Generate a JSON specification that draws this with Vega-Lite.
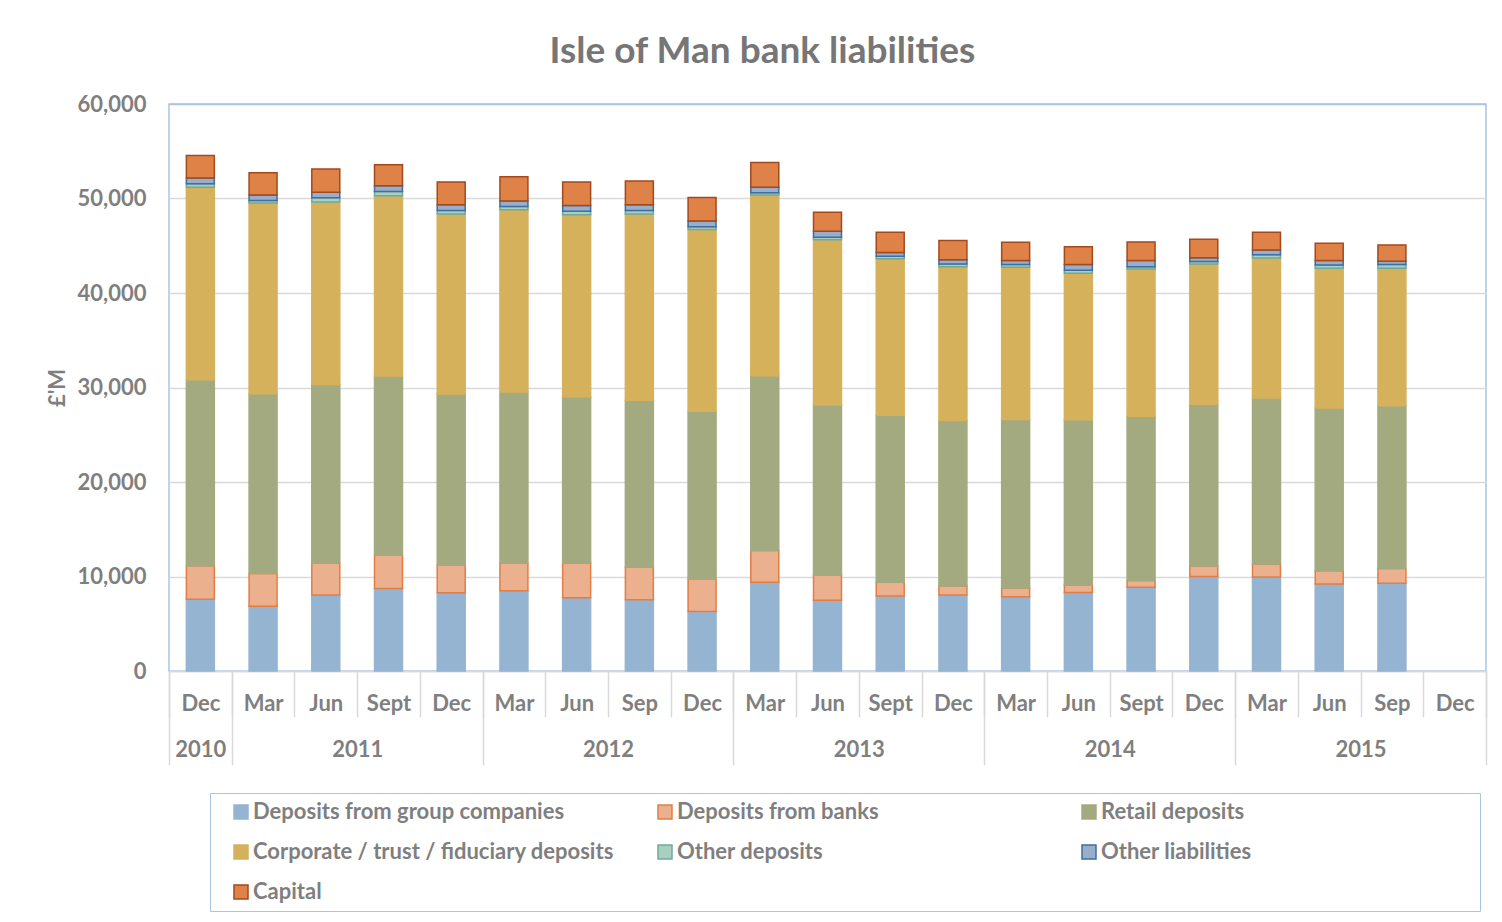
{
  "$schema": "https://vega.github.io/schema/vega-lite/v6.json",
  "width": 1317,
  "height": 567,
  "autosize": "none",
  "padding": {"left": 169, "top": 104, "right": 16, "bottom": 251},
  "background": "white",
  "title": {"text": "Isle of Man bank liabilities", "font": "Lato", "fontSize": 37, "fontWeight": "bold", "color": "#767676", "anchor": "middle", "frame": "bounds", "offset": 22, "dx": -4},
  "config": {"view": {"stroke": "#A9C4E4", "strokeWidth": 1.5}, "font": "Lato"},
  "datasets": {
    "liab": [
      {"period": "Dec 2010", "series": "Deposits from group companies", "value": 7600},
      {"period": "Dec 2010", "series": "Deposits from banks", "value": 3540},
      {"period": "Dec 2010", "series": "Retail deposits", "value": 19670},
      {"period": "Dec 2010", "series": "Corporate / trust / fiduciary deposits", "value": 20390},
      {"period": "Dec 2010", "series": "Other deposits", "value": 360},
      {"period": "Dec 2010", "series": "Other liabilities", "value": 620},
      {"period": "Dec 2010", "series": "Capital", "value": 2360},
      {"period": "Mar 2011", "series": "Deposits from group companies", "value": 6850},
      {"period": "Mar 2011", "series": "Deposits from banks", "value": 3460},
      {"period": "Mar 2011", "series": "Retail deposits", "value": 19040},
      {"period": "Mar 2011", "series": "Corporate / trust / fiduciary deposits", "value": 20180},
      {"period": "Mar 2011", "series": "Other deposits", "value": 250},
      {"period": "Mar 2011", "series": "Other liabilities", "value": 580},
      {"period": "Mar 2011", "series": "Capital", "value": 2370},
      {"period": "Jun 2011", "series": "Deposits from group companies", "value": 8050},
      {"period": "Jun 2011", "series": "Deposits from banks", "value": 3350},
      {"period": "Jun 2011", "series": "Retail deposits", "value": 18930},
      {"period": "Jun 2011", "series": "Corporate / trust / fiduciary deposits", "value": 19310},
      {"period": "Jun 2011", "series": "Other deposits", "value": 430},
      {"period": "Jun 2011", "series": "Other liabilities", "value": 590},
      {"period": "Jun 2011", "series": "Capital", "value": 2470},
      {"period": "Sept 2011", "series": "Deposits from group companies", "value": 8740},
      {"period": "Sept 2011", "series": "Deposits from banks", "value": 3500},
      {"period": "Sept 2011", "series": "Retail deposits", "value": 18970},
      {"period": "Sept 2011", "series": "Corporate / trust / fiduciary deposits", "value": 19080},
      {"period": "Sept 2011", "series": "Other deposits", "value": 440},
      {"period": "Sept 2011", "series": "Other liabilities", "value": 620},
      {"period": "Sept 2011", "series": "Capital", "value": 2220},
      {"period": "Dec 2011", "series": "Deposits from group companies", "value": 8270},
      {"period": "Dec 2011", "series": "Deposits from banks", "value": 2910},
      {"period": "Dec 2011", "series": "Retail deposits", "value": 18140},
      {"period": "Dec 2011", "series": "Corporate / trust / fiduciary deposits", "value": 19040},
      {"period": "Dec 2011", "series": "Other deposits", "value": 360},
      {"period": "Dec 2011", "series": "Other liabilities", "value": 620},
      {"period": "Dec 2011", "series": "Capital", "value": 2410},
      {"period": "Mar 2012", "series": "Deposits from group companies", "value": 8490},
      {"period": "Mar 2012", "series": "Deposits from banks", "value": 2910},
      {"period": "Mar 2012", "series": "Retail deposits", "value": 18130},
      {"period": "Mar 2012", "series": "Corporate / trust / fiduciary deposits", "value": 19270},
      {"period": "Mar 2012", "series": "Other deposits", "value": 360},
      {"period": "Mar 2012", "series": "Other liabilities", "value": 580},
      {"period": "Mar 2012", "series": "Capital", "value": 2550},
      {"period": "Jun 2012", "series": "Deposits from group companies", "value": 7760},
      {"period": "Jun 2012", "series": "Deposits from banks", "value": 3670},
      {"period": "Jun 2012", "series": "Retail deposits", "value": 17590},
      {"period": "Jun 2012", "series": "Corporate / trust / fiduciary deposits", "value": 19270},
      {"period": "Jun 2012", "series": "Other deposits", "value": 360},
      {"period": "Jun 2012", "series": "Other liabilities", "value": 620},
      {"period": "Jun 2012", "series": "Capital", "value": 2480},
      {"period": "Sep 2012", "series": "Deposits from group companies", "value": 7540},
      {"period": "Sep 2012", "series": "Deposits from banks", "value": 3460},
      {"period": "Sep 2012", "series": "Retail deposits", "value": 17660},
      {"period": "Sep 2012", "series": "Corporate / trust / fiduciary deposits", "value": 19700},
      {"period": "Sep 2012", "series": "Other deposits", "value": 360},
      {"period": "Sep 2012", "series": "Other liabilities", "value": 620},
      {"period": "Sep 2012", "series": "Capital", "value": 2520},
      {"period": "Dec 2012", "series": "Deposits from group companies", "value": 6300},
      {"period": "Dec 2012", "series": "Deposits from banks", "value": 3420},
      {"period": "Dec 2012", "series": "Retail deposits", "value": 17770},
      {"period": "Dec 2012", "series": "Corporate / trust / fiduciary deposits", "value": 19230},
      {"period": "Dec 2012", "series": "Other deposits", "value": 290},
      {"period": "Dec 2012", "series": "Other liabilities", "value": 620},
      {"period": "Dec 2012", "series": "Capital", "value": 2480},
      {"period": "Mar 2013", "series": "Deposits from group companies", "value": 9400},
      {"period": "Mar 2013", "series": "Deposits from banks", "value": 3350},
      {"period": "Mar 2013", "series": "Retail deposits", "value": 18500},
      {"period": "Mar 2013", "series": "Corporate / trust / fiduciary deposits", "value": 19110},
      {"period": "Mar 2013", "series": "Other deposits", "value": 260},
      {"period": "Mar 2013", "series": "Other liabilities", "value": 580},
      {"period": "Mar 2013", "series": "Capital", "value": 2620},
      {"period": "Jun 2013", "series": "Deposits from group companies", "value": 7500},
      {"period": "Jun 2013", "series": "Deposits from banks", "value": 2620},
      {"period": "Jun 2013", "series": "Retail deposits", "value": 18030},
      {"period": "Jun 2013", "series": "Corporate / trust / fiduciary deposits", "value": 17480},
      {"period": "Jun 2013", "series": "Other deposits", "value": 260},
      {"period": "Jun 2013", "series": "Other liabilities", "value": 650},
      {"period": "Jun 2013", "series": "Capital", "value": 2000},
      {"period": "Sept 2013", "series": "Deposits from group companies", "value": 7940},
      {"period": "Sept 2013", "series": "Deposits from banks", "value": 1460},
      {"period": "Sept 2013", "series": "Retail deposits", "value": 17660},
      {"period": "Sept 2013", "series": "Corporate / trust / fiduciary deposits", "value": 16570},
      {"period": "Sept 2013", "series": "Other deposits", "value": 250},
      {"period": "Sept 2013", "series": "Other liabilities", "value": 400},
      {"period": "Sept 2013", "series": "Capital", "value": 2150},
      {"period": "Dec 2013", "series": "Deposits from group companies", "value": 8050},
      {"period": "Dec 2013", "series": "Deposits from banks", "value": 940},
      {"period": "Dec 2013", "series": "Retail deposits", "value": 17520},
      {"period": "Dec 2013", "series": "Corporate / trust / fiduciary deposits", "value": 16280},
      {"period": "Dec 2013", "series": "Other deposits", "value": 290},
      {"period": "Dec 2013", "series": "Other liabilities", "value": 440},
      {"period": "Dec 2013", "series": "Capital", "value": 2040},
      {"period": "Mar 2014", "series": "Deposits from group companies", "value": 7870},
      {"period": "Mar 2014", "series": "Deposits from banks", "value": 910},
      {"period": "Mar 2014", "series": "Retail deposits", "value": 17840},
      {"period": "Mar 2014", "series": "Corporate / trust / fiduciary deposits", "value": 16100},
      {"period": "Mar 2014", "series": "Other deposits", "value": 290},
      {"period": "Mar 2014", "series": "Other liabilities", "value": 430},
      {"period": "Mar 2014", "series": "Capital", "value": 1930},
      {"period": "Jun 2014", "series": "Deposits from group companies", "value": 8300},
      {"period": "Jun 2014", "series": "Deposits from banks", "value": 800},
      {"period": "Jun 2014", "series": "Retail deposits", "value": 17480},
      {"period": "Jun 2014", "series": "Corporate / trust / fiduciary deposits", "value": 15520},
      {"period": "Jun 2014", "series": "Other deposits", "value": 320},
      {"period": "Jun 2014", "series": "Other liabilities", "value": 590},
      {"period": "Jun 2014", "series": "Capital", "value": 1890},
      {"period": "Sept 2014", "series": "Deposits from group companies", "value": 8850},
      {"period": "Sept 2014", "series": "Deposits from banks", "value": 730},
      {"period": "Sept 2014", "series": "Retail deposits", "value": 17370},
      {"period": "Sept 2014", "series": "Corporate / trust / fiduciary deposits", "value": 15580},
      {"period": "Sept 2014", "series": "Other deposits", "value": 260},
      {"period": "Sept 2014", "series": "Other liabilities", "value": 650},
      {"period": "Sept 2014", "series": "Capital", "value": 1970},
      {"period": "Dec 2014", "series": "Deposits from group companies", "value": 10010},
      {"period": "Dec 2014", "series": "Deposits from banks", "value": 1100},
      {"period": "Dec 2014", "series": "Retail deposits", "value": 17110},
      {"period": "Dec 2014", "series": "Corporate / trust / fiduciary deposits", "value": 14860},
      {"period": "Dec 2014", "series": "Other deposits", "value": 260},
      {"period": "Dec 2014", "series": "Other liabilities", "value": 400},
      {"period": "Dec 2014", "series": "Capital", "value": 1960},
      {"period": "Mar 2015", "series": "Deposits from group companies", "value": 9940},
      {"period": "Mar 2015", "series": "Deposits from banks", "value": 1390},
      {"period": "Mar 2015", "series": "Retail deposits", "value": 17550},
      {"period": "Mar 2015", "series": "Corporate / trust / fiduciary deposits", "value": 14820},
      {"period": "Mar 2015", "series": "Other deposits", "value": 360},
      {"period": "Mar 2015", "series": "Other liabilities", "value": 480},
      {"period": "Mar 2015", "series": "Capital", "value": 1890},
      {"period": "Jun 2015", "series": "Deposits from group companies", "value": 9210},
      {"period": "Jun 2015", "series": "Deposits from banks", "value": 1390},
      {"period": "Jun 2015", "series": "Retail deposits", "value": 17220},
      {"period": "Jun 2015", "series": "Corporate / trust / fiduciary deposits", "value": 14790},
      {"period": "Jun 2015", "series": "Other deposits", "value": 360},
      {"period": "Jun 2015", "series": "Other liabilities", "value": 470},
      {"period": "Jun 2015", "series": "Capital", "value": 1830},
      {"period": "Sep 2015", "series": "Deposits from group companies", "value": 9290},
      {"period": "Sep 2015", "series": "Deposits from banks", "value": 1560},
      {"period": "Sep 2015", "series": "Retail deposits", "value": 17230},
      {"period": "Sep 2015", "series": "Corporate / trust / fiduciary deposits", "value": 14530},
      {"period": "Sep 2015", "series": "Other deposits", "value": 400},
      {"period": "Sep 2015", "series": "Other liabilities", "value": 360},
      {"period": "Sep 2015", "series": "Capital", "value": 1710}
    ]
  },
  "data": {"name": "liab"},
  "layer": [
    {
      "mark": {"type": "bar", "opacity": 0},
      "encoding": {
        "x": {
          "field": "period", "type": "nominal",
          "scale": {"domain": ["Dec 2010","Mar 2011","Jun 2011","Sept 2011","Dec 2011","Mar 2012","Jun 2012","Sep 2012","Dec 2012","Mar 2013","Jun 2013","Sept 2013","Dec 2013","Mar 2014","Jun 2014","Sept 2014","Dec 2014","Mar 2015","Jun 2015","Sep 2015","Dec 2015"], "paddingInner": 0, "paddingOuter": 0},
          "axis": {
            "orient": "bottom", "title": null, "domain": false, "grid": false, "ticks": true,
            "values": ["Dec 2010","Dec 2011","Dec 2012","Dec 2013","Dec 2014","Dec 2015"],
            "labelExpr": "split(datum.label, ' ')[1]",
            "tickBand": "extent", "tickSize": 94, "tickColor": "#D9D9D9", "tickWidth": 1.5,
            "labelPadding": -16, "labelBaseline": "middle", "labelAngle": 0,
            "labelOffset": {"condition": {"test": "datum.value === 'Dec 2010'", "value": 0}, "value": -94.07},
            "labelFont": "Lato", "labelFontSize": 22, "labelFontWeight": "bold", "labelColor": "#7F7F7F",
            "labelOverlap": false, "labelLimit": 300
          }
        },
        "y": {"field": "value", "type": "quantitative", "aggregate": "sum", "scale": {"domain": [0, 60000], "nice": false}}
      }
    },
    {
      "transform": [
        {"window": [{"op": "row_number", "as": "rank"}], "groupby": ["period"]}
      ],
      "mark": {"type": "bar", "strokeWidth": 1.5, "width": {"band": 0.446}},
      "encoding": {
        "x": {
          "field": "period", "type": "nominal",
          "scale": {"domain": ["Dec 2010","Mar 2011","Jun 2011","Sept 2011","Dec 2011","Mar 2012","Jun 2012","Sep 2012","Dec 2012","Mar 2013","Jun 2013","Sept 2013","Dec 2013","Mar 2014","Jun 2014","Sept 2014","Dec 2014","Mar 2015","Jun 2015","Sep 2015","Dec 2015"], "paddingInner": 0, "paddingOuter": 0},
          "axis": {
            "orient": "bottom", "title": null, "ticks": true,
            "labelExpr": "split(datum.label, ' ')[0]",
            "tickBand": "extent", "tickSize": 46, "tickColor": "#D9D9D9", "tickWidth": 1.5,
            "domainColor": "#D9D9D9", "domainWidth": 1.5,
            "labelPadding": -14, "labelBaseline": "middle", "labelAngle": 0,
            "labelFont": "Lato", "labelFontSize": 22, "labelFontWeight": "bold", "labelColor": "#7F7F7F",
            "labelOverlap": false, "labelLimit": 300
          }
        },
        "y": {
          "field": "value", "type": "quantitative", "stack": "zero",
          "scale": {"domain": [0, 60000], "nice": false},
          "axis": {
            "title": "£'M", "titleFont": "Lato", "titleFontSize": 22, "titleFontWeight": "bold", "titleColor": "#7F7F7F", "titlePadding": 8,
            "values": [0, 10000, 20000, 30000, 40000, 50000, 60000], "format": ",.0f",
            "labelFont": "Lato", "labelFontSize": 22, "labelFontWeight": "bold", "labelColor": "#7F7F7F", "labelPadding": 23,
            "ticks": false, "domain": false, "grid": true,
            "gridColor": {"condition": {"test": "datum.value === 60000", "value": "#A9C4E4"}, "value": "#D9D9D9"},
            "gridWidth": 1.5
          }
        },
        "order": {"field": "rank", "type": "quantitative", "sort": "ascending"},
        "color": {
          "field": "series", "type": "nominal",
          "sort": ["Deposits from group companies","Deposits from banks","Retail deposits","Corporate / trust / fiduciary deposits","Other deposits","Other liabilities","Capital"],
          "scale": {"domain": ["Deposits from group companies","Deposits from banks","Retail deposits","Corporate / trust / fiduciary deposits","Other deposits","Other liabilities","Capital"], "range": ["#94B4D2","#EBB08E","#A4AA7F","#D6B15C","#A8CFC0","#98AECB","#DF8248"]},
          "legend": {
            "orient": "none", "legendX": 41, "legendY": 689,
            "title": " ", "titleOrient": "right", "titlePadding": 220, "titleFontSize": 22,
            "columns": 3, "direction": "horizontal",
            "symbolType": "square", "symbolSize": 196, "symbolStrokeWidth": 1.5, "symbolOffset": 12,
            "labelFont": "Lato", "labelFontSize": 22, "labelFontWeight": "bold", "labelColor": "#7F7F7F", "labelLimit": 600, "labelOffset": 1,
            "gridAlign": "all", "columnPadding": 28, "rowPadding": 18, "padding": 8,
            "strokeColor": "#A9C4E4", "fillColor": "white"
          }
        },
        "stroke": {
          "field": "series", "type": "nominal",
          "sort": ["Deposits from group companies","Deposits from banks","Retail deposits","Corporate / trust / fiduciary deposits","Other deposits","Other liabilities","Capital"],
          "scale": {"domain": ["Deposits from group companies","Deposits from banks","Retail deposits","Corporate / trust / fiduciary deposits","Other deposits","Other liabilities","Capital"], "range": ["#94B4D2","#E27D43","#A4AA7F","#D6B15C","#6DAA9A","#3E6EA3","#A34A1D"]}
        }
      }
    }
  ],
  "resolve": {"axis": {"x": "independent"}}
}
